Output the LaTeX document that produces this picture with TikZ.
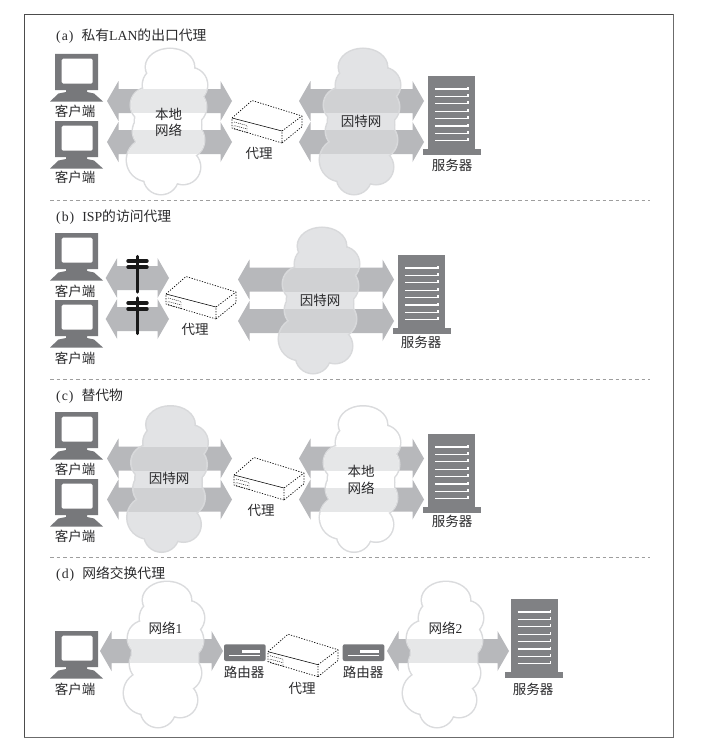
\documentclass[tikz,border=0pt]{standalone}
\usepackage{fontspec}
\setmainfont{Liberation Serif}
\newfontfamily\cjk{Noto Sans CJK SC}
\definecolor{devgray}{HTML}{77787B}
\definecolor{srvgray}{HTML}{808184}
\definecolor{arrgray}{HTML}{B7B8BB}
\definecolor{cldline}{HTML}{DADBDD}
\definecolor{lanband}{HTML}{E6E7E8}
\definecolor{netfill}{HTML}{E2E3E5}
\definecolor{netband}{HTML}{D0D1D3}
\definecolor{netline}{HTML}{D8D9DB}
\definecolor{txt}{HTML}{2A2A2C}
\newcommand\cloudcircles{
  (2,-54) ellipse [x radius=24,y radius=18]
  (22,-36) circle [radius=17]
  (-8,-36) circle [radius=17]
  (-20,-16) circle [radius=17]
  (20,-14) circle [radius=18]
  (-18,10) circle [radius=17]
  (18,19) circle [radius=18]
  (-20,39) circle [radius=21]
  (15,46) circle [radius=17]
  (-7,56) circle [radius=17]
  (0,4) ellipse [x radius=33,y radius=52]
}
% #1 centre, #2 fill, #3 band colour, #4 outline, #5 band centres relative to the cloud
\newcommand\cloudat[5]{
  \begin{scope}[shift={#1}]
    \draw[line width=3,#4] \cloudcircles;
    \fill[#2] \cloudcircles;
    \begin{scope}
      \clip \cloudcircles;
      \foreach \bandc in {#5} \fill[#3] (-60,\bandc-12) rectangle (60,\bandc+12);
    \end{scope}
  \end{scope}
}
% #1 left tip x, #2 right tip x, #3 centre y
\newcommand\duplex[3]{
  \fill[arrgray] (#1,#3) -- (#1+11.5,#3-20) -- (#1+11.5,#3-12) -- (#2-11.5,#3-12)
    -- (#2-11.5,#3-20) -- (#2,#3) -- (#2-11.5,#3+20) -- (#2-11.5,#3+12)
    -- (#1+11.5,#3+12) -- (#1+11.5,#3+20) -- cycle;
}
\tikzset{
  x=1pt,y=-1pt,
  lbl/.style={inner sep=0pt,text=txt,font=\cjk\fontsize{13.5}{16.5}\selectfont,align=center},
  ttl/.style={inner sep=0pt,anchor=west,text=txt,font=\fontsize{13.8}{16}\selectfont},
  sep/.style={draw=black!38,line width=0.8,dash pattern=on 3.5pt off 3pt},
  pole/.style={line width=3.4,black!90,line cap=round},
  dots/.style={black,line width=0.7,dash pattern=on 1.2pt off 1.5pt,line join=round},
  monitorpic/.pic={
    \fill[devgray] (0,0) -- (43,0) -- (43,36) -- (32,36) -- (32,38) -- (39,39.5) -- (48,47.5)
      -- (-5,47.5) -- (3.5,39.5) -- (11,38) -- (11,36) -- (0,36) -- cycle;
    \fill[white,rounded corners=1.5] (6.7,4.7) rectangle (37.7,29.7);
  },
  serverpic/.pic={
    \fill[srvgray] (0,0) rectangle (47,72.5);
    \fill[srvgray] (-5.5,72.5) rectangle (52.5,79);
    \foreach \k in {0,...,7}
      \draw[white,line width=1.1] (7,13+7.4*\k) -- (40,13+7.4*\k) -- (40,10.5+7.4*\k);
  },
  proxypic/.pic={
    \draw[dots]
      (0,0) -- (20,-17.5) -- (70,-2) -- (50,13) -- (50,25) -- (0,10) -- cycle
      (70,-2) -- (70,8.7) -- (50,25);
    \draw[black,line width=0.55] (0,0) -- (50,13);
    \draw[black,line width=0.45,dash pattern=on 1pt off 1pt] (2,4) -- (15,7.5) -- (15,11) -- (2,7.5)
      (2,7.5) -- (2,11) -- (15,14.5) -- (15,11);
  },
  routerpic/.pic={
    \fill[devgray,rounded corners=2] (0,0) rectangle (41.7,16.7);
    \fill[white] (17.7,5.5) rectangle (36,8.7);
    \draw[white,line width=0.7] (5,10.7) -- (36,10.7);
  }
}
\begin{document}
\begin{tikzpicture}
\useasboundingbox (0,0) rectangle (701,752);
\fill[white] (0,0) rectangle (701,752);

% frame
\draw[black!70,line width=1] (24.5,738) -- (24.5,14.5) -- (674,14.5);
\draw[black!58,line width=1.8] (24,737.5) -- (673.5,737.5) -- (673.5,14);

% separators
\coordinate (sa) at (50,200.7); \coordinate (sae) at (650,200.7);
\coordinate (sb) at (50,379); \coordinate (sbe) at (650,379);
\coordinate (sc) at (50,557.7); \coordinate (sce) at (650,557.7);
\draw[sep] (sa) -- (sae);
\draw[sep] (sb) -- (sbe);
\draw[sep] (sc) -- (sce);

% titles
\node[ttl] (ta) at (56,36) {(\kern1pt a\kern1pt)\hspace{8pt}{\cjk 私有}LAN{\cjk 的出口代理}};
\node[ttl] (tb) at (56,217) {(\kern1pt b\kern1pt)\hspace{8pt}ISP{\cjk 的访问代理}};
\node[ttl] (tc) at (56,396) {(\kern1pt c\kern1pt)\hspace{8pt}{\cjk 替代物}};
\node[ttl] (td) at (56,574) {(\kern1pt d\kern1pt)\hspace{8pt}{\cjk 网络交换代理}};

% ---------- (a)
\pic at (55,54) {monitorpic};
\pic at (55,121) {monitorpic};
\node[lbl] (ca1) at (75,111) {客户端};
\node[lbl] (ca2) at (75,177.5) {客户端};
\duplex{107}{232}{101}
\duplex{107}{232}{142}
\cloudat{(168,121)}{white}{lanband}{cldline}{-20,21}
\node[lbl] (la) at (168.5,122.5) {本地\\网络};
\pic at (232,118) {proxypic};
\node[lbl] (pa) at (259,153) {代理};
\duplex{299}{424}{101}
\duplex{299}{424}{142}
\cloudat{(361,121)}{netfill}{netband}{netline}{-20,21}
\node[lbl] (ia) at (361,121) {因特网};
\pic at (428,76) {serverpic};
\node[lbl] (sva) at (452,165) {服务器};

% ---------- (b)
\pic at (55,233) {monitorpic};
\pic at (55,300) {monitorpic};
\node[lbl] (cb1) at (75,291) {客户端};
\node[lbl] (cb2) at (75,358) {客户端};
\duplex{105.7}{169}{278}
\duplex{105.7}{169}{319}
\draw[pole] (137.3,256.5) -- (137.3,292);
\draw[pole] (128,261) -- (147,261);
\draw[pole] (128,267) -- (147,267);
\draw[pole] (137.3,298) -- (137.3,333.5);
\draw[pole] (128,303) -- (147,303);
\draw[pole] (128,309) -- (147,309);
\pic at (166,294) {proxypic};
\node[lbl] (pb) at (195,329) {代理};
\duplex{238}{394}{279.5}
\duplex{238}{394}{321}
\cloudat{(320,300)}{netfill}{netband}{netline}{-20.5,21}
\node[lbl] (ib) at (320,300.5) {因特网};
\pic at (398,255) {serverpic};
\node[lbl] (svb) at (421,342) {服务器};

% ---------- (c)
\pic at (55,412) {monitorpic};
\pic at (55,479) {monitorpic};
\node[lbl] (cc1) at (75,469) {客户端};
\node[lbl] (cc2) at (75,536) {客户端};
\duplex{107}{232}{458.5}
\duplex{107}{232}{499.5}
\cloudat{(168.5,478.5)}{netfill}{netband}{netline}{-20,21}
\node[lbl] (ic) at (169,478) {因特网};
\pic at (234,475) {proxypic};
\node[lbl] (pc) at (261,510) {代理};
\duplex{299}{424}{458.5}
\duplex{299}{424}{499.5}
\cloudat{(361,478.5)}{white}{lanband}{cldline}{-20,21}
\node[lbl] (lc) at (361,480) {本地\\网络};
\pic at (428,434) {serverpic};
\node[lbl] (svc) at (452,521) {服务器};

% ---------- (d)
\pic at (55,631) {monitorpic};
\node[lbl] (cd) at (75,689) {客户端};
\duplex{100}{223}{651}
\cloudat{(165,654)}{white}{lanband}{cldline}{-3}
\node[lbl] (ld1) at (165.5,628) {{\cjk 网络}{\fontspec{Liberation Serif}1}};
\pic at (224,644.3) {routerpic};
\node[lbl] (r1) at (244,672) {路由器};
\pic at (268,651.7) {proxypic};
\node[lbl] (pd) at (302,688) {代理};
\pic at (342.7,644.3) {routerpic};
\node[lbl] (r2) at (363,672) {路由器};
\duplex{387}{509}{651}
\cloudat{(444,654)}{white}{lanband}{cldline}{-3}
\node[lbl] (ld2) at (445.5,628) {{\cjk 网络}{\fontspec{Liberation Serif}2}};
\pic at (510.7,599) {serverpic};
\node[lbl] (svd) at (533,689) {服务器};
\end{tikzpicture}
\end{document}
